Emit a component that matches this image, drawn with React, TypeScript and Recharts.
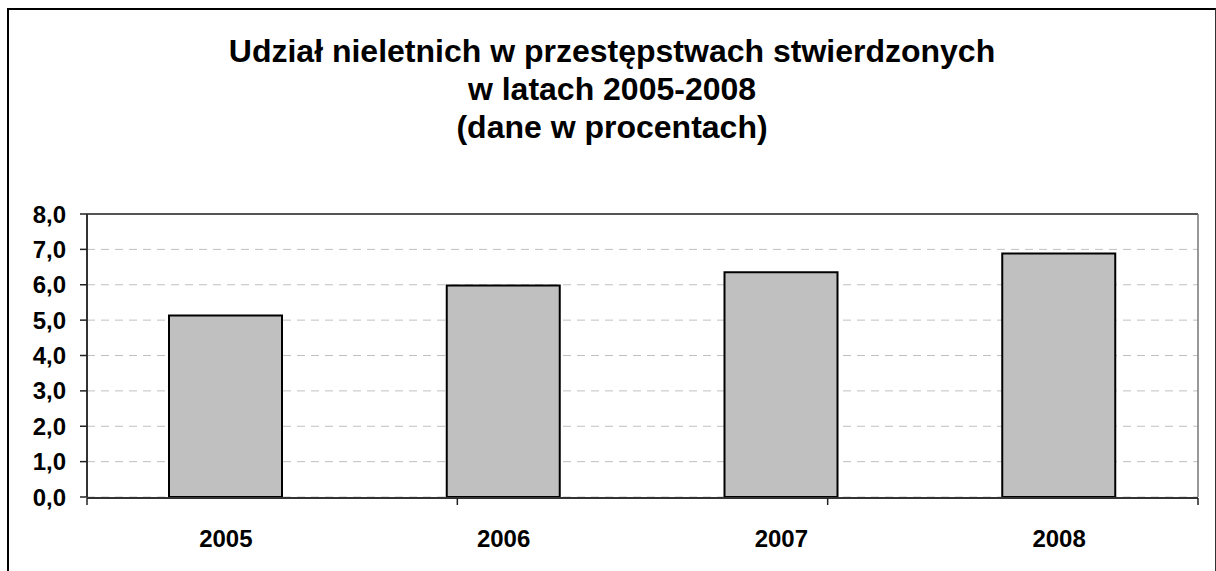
import React from 'react';
import { BarChart, Bar, XAxis, YAxis, CartesianGrid, ReferenceLine } from 'recharts';

const years = ['2005', '2006', '2007', '2008'];
const shares = [5.13, 5.98, 6.35, 6.88];
const yTicks = [0, 1, 2, 3, 4, 5, 6, 7, 8];
const edgeTicks = [0, 1, 2, 3, 4];
const titleLines = [
  'Udział nieletnich w przestępstwach stwierdzonych',
  'w latach 2005-2008',
  '(dane w procentach)',
];

const data = years.map((y, i) => ({ year: y, value: shares[i] }));

const FONT = '"Liberation Sans", Arial, sans-serif';

export default function App() {
  return (
    <div style={{ position: 'absolute', left: 0, top: 0, width: 1216, height: 571, background: '#fff', overflow: 'hidden' }}>
      <div
        style={{
          position: 'absolute',
          left: 7,
          top: 8,
          width: 1209,
          height: 600,
          boxSizing: 'border-box',
          borderTop: '2px solid #000',
          borderLeft: '2px solid #000',
          borderRight: '1px solid #333',
        }}
      />
      <svg width={1216} height={160} style={{ position: 'absolute', left: 0, top: 0 }}>
        {titleLines.map((t, i) => (
          <text
            key={i}
            x={612}
            y={62 + i * 38}
            textAnchor="middle"
            fontFamily={FONT}
            fontWeight="bold"
            fontSize={32}
            fill="#000"
          >
            {t}
          </text>
        ))}
      </svg>
      <div style={{ position: 'absolute', left: 0, top: 0 }}>
        <BarChart
          width={1216}
          height={571}
          data={data}
          margin={{ top: 214, right: 17, bottom: 72, left: 0 }}
        >
          <CartesianGrid vertical={false} stroke="#c0c0c0" strokeDasharray="8 6" />
          <XAxis
            xAxisId="edges"
            type="number"
            domain={[0, 4]}
            ticks={edgeTicks}
            interval={0}
            height={1}
            tickFormatter={() => ''}
            tickSize={7}
            tickLine={{ stroke: '#222', strokeWidth: 1.5 }}
            axisLine={{ stroke: '#333', strokeWidth: 2 }}
          />
          <XAxis
            dataKey="year"
            height={1}
            tickLine={false}
            axisLine={false}
            tickMargin={27}
            tick={{ fontFamily: FONT, fontSize: 24, fontWeight: 'bold', fill: '#000' }}
          />
          <YAxis
            domain={[0, 8]}
            ticks={yTicks}
            interval={0}
            width={87}
            tickSize={7}
            tickMargin={14}
            tickFormatter={(v: number) => v.toFixed(1).replace('.', ',')}
            tick={{ fontFamily: FONT, fontSize: 24, fontWeight: 'bold', fill: '#000' }}
            tickLine={{ stroke: '#222', strokeWidth: 1.5 }}
            axisLine={{ stroke: '#333', strokeWidth: 2 }}
          />
          <YAxis
            yAxisId="r"
            orientation="right"
            domain={[0, 8]}
            width={1}
            tick={false}
            tickLine={false}
            axisLine={{ stroke: '#777', strokeWidth: 1.5 }}
          />
          <ReferenceLine y={8} stroke="#555" strokeWidth={2} />
          <Bar
            dataKey="value"
            barSize={113}
            fill="#c0c0c0"
            stroke="#000"
            strokeWidth={2}
            isAnimationActive={false}
          />
        </BarChart>
      </div>
    </div>
  );
}
